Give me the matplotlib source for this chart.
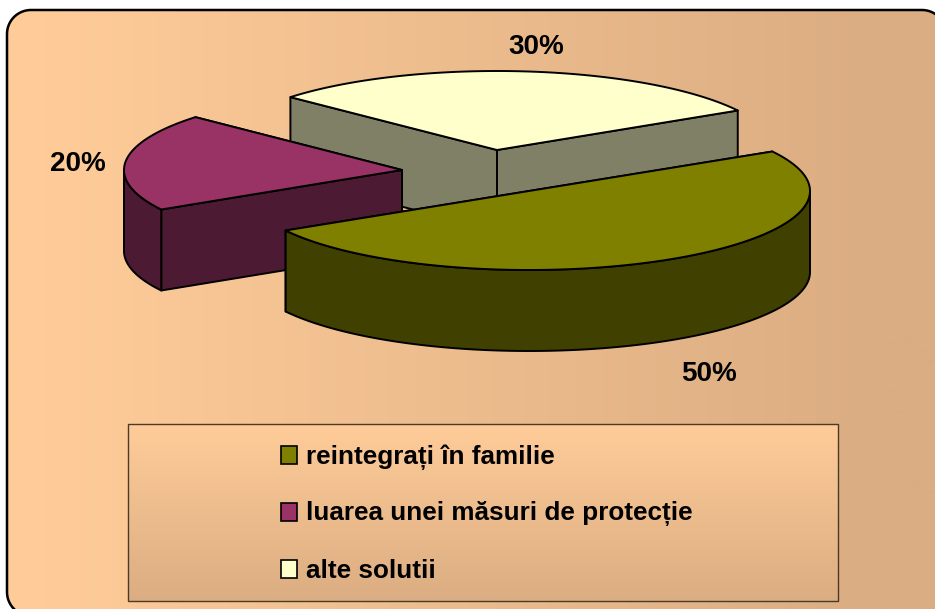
import numpy as np
import matplotlib
matplotlib.use("Agg")
import matplotlib.pyplot as plt
from matplotlib.colors import LinearSegmentedColormap
from matplotlib.patches import Polygon, Rectangle

plt.rcParams["font.family"] = ["Liberation Sans", "DejaVu Sans"]

# chart data
categories = ["reintegrați în familie", "luarea unei măsuri de protecție", "alte solutii"]
values = [50, 20, 30]
pct_labels = ["50%", "20%", "30%"]

top_colors = ["#808000", "#993366", "#FFFFCC"]
side_colors = ["#404000", "#4D1A33", "#808066"]

# layout, in pixels of the picture
centers = [(529, 191), (402, 170), (497, 150)]
radii_x = [281, 278, 278]
label_pos = [(709, 374), (78, 164), (536, 47)]
legend_y = [455, 512, 569]
ry, depth = 79, 81
start_angle = 30
LW = 1.4

grad = LinearSegmentedColormap.from_list("bg", ["#FFCC99", "#DBAD82"])

fig = plt.figure(figsize=(9.35, 6.09), dpi=100, facecolor="white")
ax = fig.add_axes([0, 0, 1, 1])


def round_box(x0, y0, x1, y1, r):
    pts = []
    for cx, cy, a in [(x0 + r, y0 + r, 180), (x1 - r, y0 + r, 270),
                      (x1 - r, y1 - r, 0), (x0 + r, y1 - r, 90)]:
        t = np.radians(np.linspace(a, a + 90, 24))
        pts += list(zip(cx + r * np.cos(t), cy + r * np.sin(t)))
    return pts


# background panel, runs off the right and bottom edge
box = round_box(7, 10, 946, 616, 24)
panel = Polygon(box, fc="none", ec="none", zorder=1)
ax.add_patch(panel)
h = np.clip((np.linspace(0, 935, 468) - 40) / 830, 0, 1)
img = ax.imshow(h[None, :], extent=(0, 935, 609, 0), cmap=grad, vmin=0, vmax=1,
                aspect="auto", zorder=1)
img.set_clip_path(panel)
ax.add_patch(Polygon(box, fc="none", ec="black", lw=1.8, zorder=2))


def draw_slice(c, rx, a0, a1, top, side, z):
    # a0 > a1, the slice runs clockwise on the ellipse
    kw = dict(ec="black", lw=LW, joinstyle="round", zorder=z)
    t = np.radians(np.linspace(a0, a1, 240))
    arc = np.column_stack([c[0] + rx * np.cos(t), c[1] - ry * np.sin(t)])
    for p in sorted([arc[0], arc[-1]], key=lambda q: q[1]):
        ax.add_patch(Polygon([c, p, (p[0], p[1] + depth), (c[0], c[1] + depth)], fc=side, **kw))
    # only the front of the rim can be seen
    front = arc[np.sin(t) <= 0]
    if len(front) > 1:
        low = front[::-1] + [0, depth]
        ax.add_patch(Polygon(np.vstack([front, low]), fc=side, **kw))
    ax.add_patch(Polygon(np.vstack([[c], arc]), fc=top, **kw))


# slice angles come from the values, going clockwise from start_angle
sweeps = [v / sum(values) * 360 for v in values]
angles = []
a = start_angle
for s in sweeps:
    angles.append((a, a - s))
    a -= s

# back to front: cream, magenta, olive
for i in [2, 1, 0]:
    a0, a1 = angles[i]
    if a0 < 0:
        a0, a1 = a0 + 360, a1 + 360
    draw_slice(centers[i], radii_x[i], a0, a1, top_colors[i], side_colors[i], 5 - i)

for (x, y), t in zip(label_pos, pct_labels):
    ax.text(x, y, t, fontsize=20, fontweight="bold", ha="center", va="center", zorder=6)

# legend box
lx0, ly0, lx1, ly1 = 128, 424, 838, 601
v = np.linspace(0, 1, 200)[:, None]
ax.imshow(v, extent=(lx0, lx1, ly1, ly0), cmap=grad, vmin=0, vmax=1, aspect="auto", zorder=7)
ax.add_patch(Rectangle((lx0, ly0), lx1 - lx0, ly1 - ly0, fc="none", ec="#4A3A28", lw=1.0, zorder=8))
for name, col, y in zip(categories, top_colors, legend_y):
    ax.add_patch(Rectangle((281, y - 9), 16, 18, fc=col, ec="black", lw=1.2, zorder=9))
    ax.text(306, y + 2, name, fontsize=18.8, fontweight="bold", ha="left", va="center", zorder=9)

ax.set_xlim(0, 935)
ax.set_ylim(609, 0)
ax.axis("off")

fig.savefig("out.png", dpi=100, facecolor="white")
